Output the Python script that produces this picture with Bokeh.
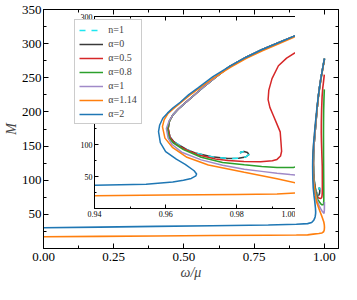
from bokeh.plotting import figure
from bokeh.models import (FixedTicker, LinearAxis, NumeralTickFormatter, CustomJSTickFormatter,
                          Legend, LegendItem, Range1d)
from bokeh.layouts import column
from bokeh.embed import file_html
from bokeh.resources import INLINE

# ---------------- data (omega/mu, M) ----------------
w_n1 = [1.0000, 0.9960, 0.9917, 0.9870, 0.9825, 0.9780, 0.9740, 0.9705, 0.9680, 0.9655, 0.9635, 0.9620, 0.9611,
        0.9607, 0.9612, 0.9622, 0.9637, 0.9660, 0.9683, 0.9729, 0.9775, 0.9805, 0.9825, 0.9834, 0.9830, 0.9820,
        0.9810, 0.9812]
m_n1 = [278, 269, 259, 248, 236, 222, 205, 189, 177, 165, 155, 146, 137, 125, 112, 105, 99.4, 92, 86.8, 80.8,
        78.2, 78.5, 80.5, 84.2, 87.5, 89.2, 88, 86]

w_a0 = [1.0000, 0.9960, 0.9917, 0.9870, 0.9825, 0.9780, 0.9740, 0.9705, 0.9680, 0.9655, 0.9635, 0.9620, 0.9611,
        0.9607, 0.9612, 0.9622, 0.9637, 0.9660, 0.9683, 0.9729, 0.9775, 0.9805, 0.9825, 0.9834, 0.9830, 0.9820,
        0.9810, 0.9812]
m_a0 = [278, 269, 259, 248, 236, 222, 205, 189, 177, 165, 155, 146, 137, 125, 112, 105, 99.4, 92, 86.8, 80.8,
        78.2, 78.5, 80.5, 84.2, 87.5, 89.2, 88, 86]

w_a05 = [1.0000, 0.9960, 0.9917, 0.9870, 0.9825, 0.9780, 0.9740, 0.9705, 0.9680, 0.9655, 0.9635, 0.9620, 0.9611,
         0.9607, 0.9613, 0.9625, 0.9645, 0.9690, 0.9740, 0.9775, 0.9820, 0.9867, 0.9900, 0.9913, 0.9923, 0.9926,
         0.9924, 0.9922, 0.9912, 0.9903, 0.9893, 0.9888, 0.9890, 0.9899, 0.9917, 0.9940, 0.9963, 0.9995]
m_a05 = [278, 269, 259, 248, 236, 222, 205, 189, 177, 165, 155, 146, 137, 125, 110, 102, 95, 84, 77.5, 75, 73.5,
         73.2, 74.5, 76.7, 82, 89.4, 105, 119.7, 133, 144.8, 158, 170, 185, 203, 223, 235, 243, 254.5]

w_a08 = [1.0000, 0.9960, 0.9917, 0.9870, 0.9825, 0.9780, 0.9740, 0.9705, 0.9680, 0.9655, 0.9635, 0.9620, 0.9611,
         0.9605, 0.9610, 0.9622, 0.9650, 0.9700, 0.9760, 0.9821, 0.9870, 0.9913, 0.9959, 0.9972, 0.9977, 0.9975,
         0.9972, 0.9968, 0.9967, 0.9966, 0.9968, 0.9972, 0.9982, 0.9995]
m_a08 = [278, 269, 259, 248, 236, 222, 205, 189, 177, 165, 155, 146, 137, 125, 110, 102, 92, 80, 72, 68.2, 65.5,
         64, 64, 66, 71.7, 90, 109.5, 135, 155, 170, 185, 203, 218, 233]

w_a1 = [1.0000, 0.9960, 0.9917, 0.9870, 0.9825, 0.9780, 0.9740, 0.9705, 0.9680, 0.9655, 0.9635, 0.9620, 0.9610,
        0.9602, 0.9607, 0.9618, 0.9645, 0.9700, 0.9760, 0.9821, 0.9870, 0.9913, 0.9950, 0.9986, 0.9997, 0.99985,
        0.99985]
m_a1 = [278, 269, 259, 248, 236, 222, 205, 189, 177, 165, 155, 146, 137, 125, 110, 100, 88, 76, 67.5, 61.5, 58,
        55, 53, 51.5, 56.5, 62, 68]

w_a114 = [0.0, 0.2, 0.4, 0.6, 0.8, 0.9, 0.94, 0.96, 0.98, 0.9913, 0.9970, 0.9993, 1.0000, 0.9995, 0.9977, 0.9913,
          0.9821, 0.9720, 0.9660, 0.9620, 0.9598, 0.9591, 0.9596, 0.9606, 0.9622, 0.9644, 0.9668, 0.9695, 0.9736,
          0.9782, 0.9827, 0.9872, 0.9918, 0.9960, 1.0000]
m_a114 = [17.2, 17.8, 18.4, 19.0, 19.5, 19.8, 20.0, 21.0, 22.0, 22.8, 24.5, 27, 31, 34.5, 38.8, 46.4, 56.5, 68,
          80, 95, 110, 128, 139, 148, 156, 166, 177, 188, 204.5, 220.5, 234.5, 246.5, 257.5, 267.5, 276.5]

w_a2 = [0.0, 0.2, 0.4, 0.6, 0.8, 0.9, 0.94, 0.9545, 0.9620, 0.9650, 0.9672, 0.9685, 0.9687, 0.9680, 0.9655, 0.9630,
        0.9600, 0.9585, 0.9580, 0.9583, 0.9592, 0.9605, 0.9620, 0.9641, 0.9665, 0.9692, 0.9733, 0.9780, 0.9825,
        0.9870, 0.9917, 0.9960, 1.0000]
m_a2 = [30.3, 31.3, 32.4, 33.4, 34.5, 35.5, 36.4, 38, 41.5, 44, 47, 51, 54, 59, 69, 77, 89, 103, 120, 130, 141,
        149, 157, 166, 178, 189, 206, 222, 236, 248, 259, 269, 278]

series = [
    ("n=1", w_n1, m_n1, "#1ee6f0", "dashed"),
    ("α=0", w_a0, m_a0, "#3a3a3a", "solid"),
    ("α=0.5", w_a05, m_a05, "#d62728", "solid"),
    ("α=0.8", w_a08, m_a08, "#2ca02c", "solid"),
    ("α=1", w_a1, m_a1, "#a08ac8", "solid"),
    ("α=1.14", w_a114, m_a114, "#ff7f0e", "solid"),
    ("α=2", w_a2, m_a2, "#1f77b4", "solid"),
]
draw_order = [1, 0, 2, 3, 4, 5, 6]

main_xticks = [0.0, 0.25, 0.5, 0.75, 1.0]
main_xminor = [0.125, 0.375, 0.625, 0.875]
main_yticks = [50, 100, 150, 200, 250, 300, 350]
main_yminor = [25, 75, 125, 175, 225, 275, 325]
ins_xticks = [0.94, 0.96, 0.98, 1.00]
ins_xminor = [0.95, 0.97, 0.99]
ins_yticks = [50, 100, 150, 200, 250, 300]
ins_yminor = [25, 75, 125, 175, 225, 275]

FONT = "Liberation Serif"


def style_axis(ax, size, show=True):
    big = size > 10
    ax.major_tick_in = 5 if big else 4
    ax.major_tick_out = 0
    ax.minor_tick_in = 3 if big else 2
    ax.minor_tick_out = 0
    ax.axis_line_color = "black"
    ax.major_tick_line_color = "black"
    ax.minor_tick_line_color = "black"
    ax.major_label_text_font = FONT
    ax.major_label_text_color = "black"
    if show:
        ax.major_label_text_font_size = f"{size}px"
        ax.major_label_standoff = 3 if big else 2
    else:
        # mirrored axis: ticks only
        ax.formatter = CustomJSTickFormatter(code="return ''")
        ax.major_label_text_font_size = "1px"
        ax.major_label_standoff = 0


# ---------------- main figure ----------------
p = figure(width=341, height=284, output_backend="svg", toolbar_location=None,
           x_range=Range1d(0, 1.05), y_range=Range1d(0, 350),
           min_border_top=9, min_border_right=1, min_border_left=36, min_border_bottom=36)
p.xgrid.visible = False
p.ygrid.visible = False
p.outline_line_color = "black"
p.background_fill_color = "white"

p.xaxis.ticker = FixedTicker(ticks=main_xticks, minor_ticks=main_xminor)
p.xaxis.formatter = NumeralTickFormatter(format="0.00")
p.yaxis.ticker = FixedTicker(ticks=main_yticks, minor_ticks=main_yminor)
p.xaxis.axis_label = "ω/μ"
p.yaxis.axis_label = "M"
for ax in (p.xaxis[0], p.yaxis[0]):
    style_axis(ax, 13)
    ax.axis_label_text_font = FONT
    ax.axis_label_text_font_style = "italic"
    ax.axis_label_text_font_size = "14px"
p.xaxis.major_label_standoff = 4
p.xaxis.axis_label_standoff = 1
p.yaxis.major_label_standoff = 2
p.yaxis.axis_label_standoff = 0

top_ax = LinearAxis(ticker=FixedTicker(ticks=main_xticks, minor_ticks=main_xminor))
right_ax = LinearAxis(ticker=FixedTicker(ticks=main_yticks, minor_ticks=main_yminor))
style_axis(top_ax, 13, show=False)
style_axis(right_ax, 13, show=False)
p.add_layout(top_ax, "above")
p.add_layout(right_ax, "right")

for i in draw_order:
    name, w, m, c, dash = series[i]
    p.line(w, m, line_color=c, line_width=1.6, line_dash=dash)

# ---------------- inset figure ----------------
ins = figure(frame_width=217, frame_height=192, output_backend="svg", toolbar_location=None,
             x_range=Range1d(0.94, 1.001), y_range=Range1d(0, 300),
             min_border_left=24, min_border_bottom=14, min_border_top=3, min_border_right=3)
ins.xgrid.visible = False
ins.ygrid.visible = False
ins.outline_line_color = "black"
ins.background_fill_color = "white"
ins.border_fill_alpha = 0
ins.xaxis.ticker = FixedTicker(ticks=ins_xticks, minor_ticks=ins_xminor)
ins.xaxis.formatter = NumeralTickFormatter(format="0.00")
ins.yaxis.ticker = FixedTicker(ticks=ins_yticks, minor_ticks=ins_yminor)
style_axis(ins.xaxis[0], 8)
style_axis(ins.yaxis[0], 8)
itop = LinearAxis(ticker=FixedTicker(ticks=ins_xticks, minor_ticks=ins_xminor))
iright = LinearAxis(ticker=FixedTicker(ticks=ins_yticks, minor_ticks=ins_yminor))
style_axis(itop, 8, show=False)
style_axis(iright, 8, show=False)
ins.add_layout(itop, "above")
ins.add_layout(iright, "right")

renderers = {}
for i in draw_order:
    name, w, m, c, dash = series[i]
    renderers[i] = ins.line(w, m, line_color=c, line_width=1.5, line_dash=dash)

legend = Legend(items=[LegendItem(label=series[i][0], renderers=[renderers[i]]) for i in range(len(series))],
                location="top_left")
legend.label_text_font = FONT
legend.label_text_font_size = "10px"
legend.label_height = 10
legend.glyph_height = 10
legend.glyph_width = 24
legend.spacing = 3
legend.padding = 4
legend.margin = 3
legend.label_standoff = 5
legend.border_line_color = "#999999"
legend.border_line_width = 1
legend.background_fill_alpha = 1
ins.add_layout(legend)

ins.styles = {"position": "absolute", "left": "51px", "top": "13px"}
col = column(p, ins)
col.styles = {"position": "relative"}

open("out.html", "w").write(file_html(col, INLINE))
